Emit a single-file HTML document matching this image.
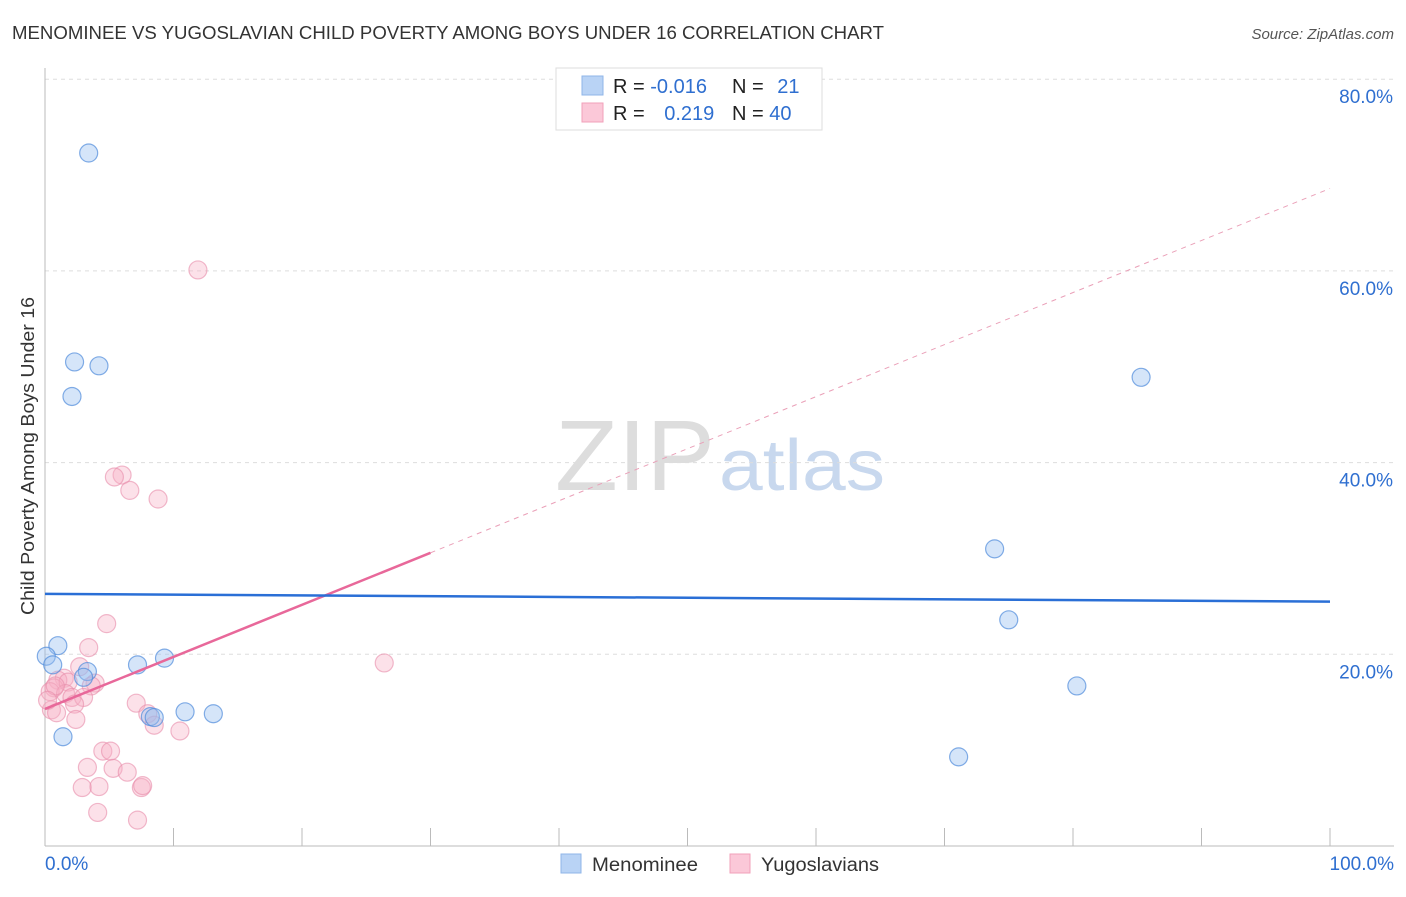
<!DOCTYPE html>
<html><head><meta charset="utf-8"><style>
body{margin:0;background:#fff;font-family:"Liberation Sans",sans-serif;}
svg text{font-family:"Liberation Sans",sans-serif;}
</style></head><body>
<svg id="chart" width="1406" height="892" viewBox="0 0 1406 892">
<text x="12" y="39" font-size="18" fill="#333" textLength="872" lengthAdjust="spacingAndGlyphs">MENOMINEE VS YUGOSLAVIAN CHILD POVERTY AMONG BOYS UNDER 16 CORRELATION CHART</text>
<text x="1394" y="39" font-size="15" fill="#555" font-style="italic" text-anchor="end">Source: ZipAtlas.com</text>
<text x="555" y="490" font-size="100" fill="#ddd" font-family="Liberation Serif" textLength="160" lengthAdjust="spacingAndGlyphs">ZIP</text>
<text x="719" y="490" font-size="72" fill="#c8d8ee" textLength="166" lengthAdjust="spacingAndGlyphs">atlas</text>
<text transform="translate(34,456) rotate(-90)" font-size="18" fill="#333" text-anchor="middle" textLength="318" lengthAdjust="spacingAndGlyphs">Child Poverty Among Boys Under 16</text>
<g id="axes"></g>
<g id="marks"></g>
<g>
<rect x="556" y="68" width="266" height="62" fill="#fff" stroke="#ddd"/>
<rect x="582" y="76" width="21" height="19" fill="#b9d3f5" stroke="#8fb6e8"/>
<rect x="582" y="103" width="21" height="19" fill="#fbc8d8" stroke="#f1a0ba"/>
<text x="613" y="93" font-size="20" fill="#222">R = <tspan fill="#2f6fd0">-0.016</tspan></text>
<text x="732" y="93" font-size="20" fill="#222">N = <tspan fill="#2f6fd0" dx="8">21</tspan></text>
<text x="613" y="120" font-size="20" fill="#222">R = <tspan fill="#2f6fd0" dx="14">0.219</tspan></text>
<text x="732" y="120" font-size="20" fill="#222">N = <tspan fill="#2f6fd0">40</tspan></text>
</g>
<g>
<rect x="561" y="854" width="20" height="19" fill="#b9d3f5" stroke="#8fb6e8"/>
<text x="592" y="871" font-size="19" fill="#333" textLength="106" lengthAdjust="spacingAndGlyphs">Menominee</text>
<rect x="730" y="854" width="20" height="19" fill="#fbc8d8" stroke="#f1a0ba"/>
<text x="761" y="871" font-size="19" fill="#333" textLength="118" lengthAdjust="spacingAndGlyphs">Yugoslavians</text>
</g>
</svg>
<script>
const yTicks=[20,40,60,80];
const yTickLabels=["20.0%","40.0%","60.0%","80.0%"];
const xTicks=[0,10,20,30,40,50,60,70,80,90,100];
const blueX=[3.4,2.3,4.2,2.1,85.3,73.9,75.0,80.3,71.1,1.0,0.1,0.6,3.3,3.0,7.2,9.3,8.2,8.5,10.9,13.1,1.4];
const blueY=[72.3,50.5,50.1,46.9,48.9,31.0,23.6,16.7,9.3,20.9,19.8,18.9,18.2,17.6,18.9,19.6,13.5,13.4,14.0,13.8,11.4];
const pinkX=[11.9,6.0,5.4,6.6,8.8,4.8,3.4,26.4,2.7,1.5,1.0,3.9,3.6,0.7,1.8,0.4,1.6,2.1,3.0,2.3,0.5,0.9,2.4,7.1,8.0,8.5,10.5,4.5,5.1,3.3,5.3,6.4,2.9,4.2,7.5,7.6,4.1,7.2,0.8,0.2];
const pinkY=[60.1,38.7,38.5,37.1,36.2,23.2,20.7,19.1,18.7,17.5,17.3,17.0,16.7,16.5,17.1,16.1,15.9,15.5,15.5,14.8,14.2,13.9,13.2,14.9,13.8,12.6,12.0,9.9,9.9,8.2,8.1,7.7,6.1,6.2,6.1,6.3,3.5,2.7,16.7,15.2];
const blueTrend=[26.3,25.5];
const pinkTrend=[14.3,68.6];
const pinkSolidEnd=30;

const NS="http://www.w3.org/2000/svg";
const X=v=>45+v*12.85, Y=v=>846-v*9.585;
function mk(tag,attrs,parent){const e=document.createElementNS(NS,tag);for(const k in attrs)e.setAttribute(k,attrs[k]);parent.appendChild(e);return e;}
const axes=document.getElementById('axes'), marks=document.getElementById('marks');
yTicks.forEach((t,i)=>{
  const g=mk('line',{x1:45,x2:1394,y1:Y(t),y2:Y(t),stroke:'#ddd','stroke-dasharray':'4,4'},axes);
  
  
  const tx=mk('text',{x:1393,y:Y(t)+24,'font-size':19,fill:'#2f6fd0','text-anchor':'end'},axes);
  tx.textContent=yTickLabels[i];
  
  
});
const la=mk('line',{x1:45,x2:45,y1:68,y2:846,stroke:'#bbb'},axes);


const ba=mk('line',{x1:45,x2:1394,y1:846,y2:846,stroke:'#bbb'},axes);


xTicks.forEach(t=>{
  const l=mk('line',{x1:X(t),x2:X(t),y1:828,y2:846,stroke:'#bbb'},axes);
  
  
});
const x0=mk('text',{x:45,y:870,'font-size':19,fill:'#2f6fd0'},axes);x0.textContent='0.0%';


const x1=mk('text',{x:1394,y:870,'font-size':19,fill:'#2f6fd0','text-anchor':'end'},axes);x1.textContent='100.0%';



pinkX.forEach((v,i)=>{
  const c=mk('circle',{cx:X(v),cy:Y(pinkY[i]),r:9,fill:'rgba(248,175,198,0.38)',stroke:'rgba(232,140,170,0.6)','stroke-width':1.2},marks);
  
  
});
blueX.forEach((v,i)=>{
  const c=mk('circle',{cx:X(v),cy:Y(blueY[i]),r:9,fill:'rgba(150,190,240,0.4)',stroke:'rgba(80,140,220,0.7)','stroke-width':1.2},marks);
  
  
});
const pAt=x=>pinkTrend[0]+(pinkTrend[1]-pinkTrend[0])*x/100;
const pd=mk('line',{x1:X(pinkSolidEnd),y1:Y(pAt(pinkSolidEnd)),x2:X(100),y2:Y(pinkTrend[1]),stroke:'#eaa0b8','stroke-width':1,'stroke-dasharray':'5,5'},marks);


const ps=mk('line',{x1:X(0),y1:Y(pinkTrend[0]),x2:X(pinkSolidEnd),y2:Y(pAt(pinkSolidEnd)),stroke:'#e8689a','stroke-width':2.5},marks);


const bl=mk('line',{x1:X(0),y1:Y(blueTrend[0]),x2:X(100),y2:Y(blueTrend[1]),stroke:'#2a6fd6','stroke-width':2.5},marks);


</script>
</body></html>
